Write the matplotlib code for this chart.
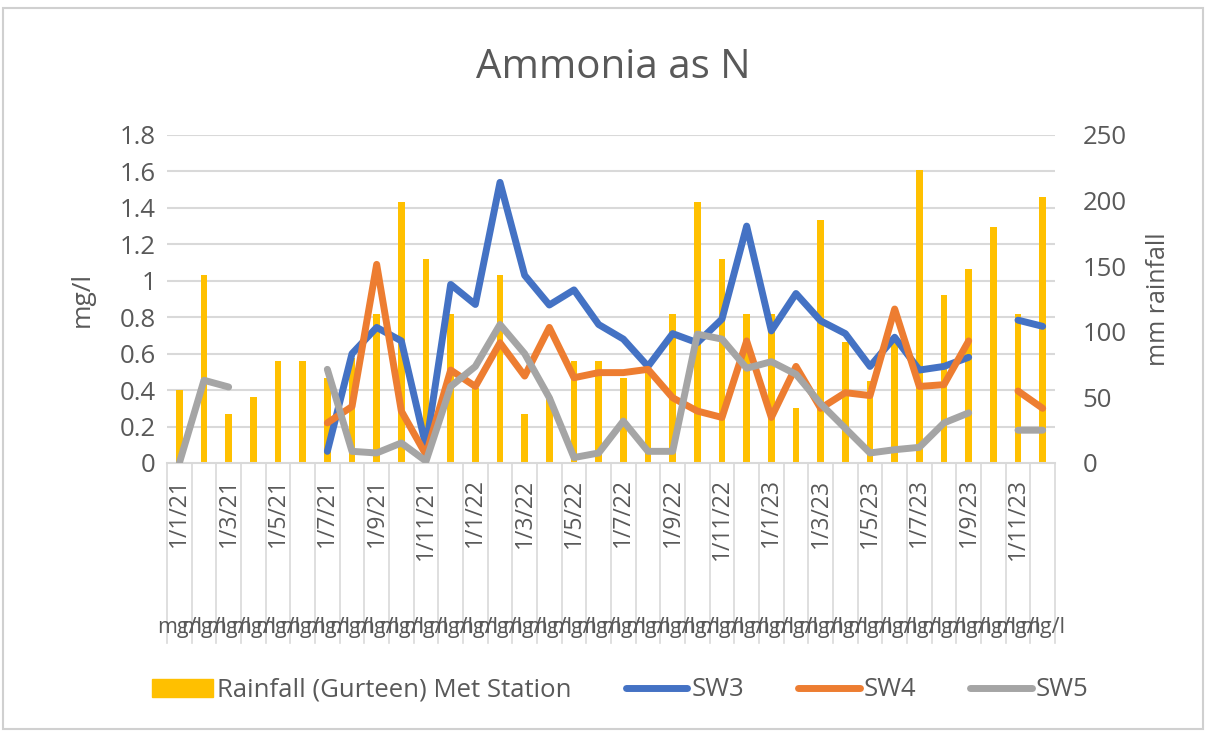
import numpy as np
import matplotlib
matplotlib.use('Agg')
import matplotlib.pyplot as plt
from matplotlib.patches import Rectangle
from matplotlib.lines import Line2D

plt.rcParams['font.family'] = ['Open Sans', 'DejaVu Sans']

# monthly categories Jan 2021 .. Dec 2023
months = ['1/%d/%d' % (m, y) for y in (21, 22, 23) for m in range(1, 13)]

rain = [56, 143, 37.5, 50, 78, 78, 65, 80, 113.5, 199, 155.6, 113.5,
        57, 143, 37.5, 50, 78, 78, 65, 78, 113.5, 199, 155.6, 113.5,
        113.5, 41.6, 185.5, 92, 62.5, 95, 223.7, 128, 148, 180, 113.5, 203]

sw3 = [None, None, None, None, None, None, 0.064, 0.60, 0.744, 0.67, 0.09, 0.98,
       0.87, 1.54, 1.03, 0.867, 0.95, 0.76, 0.68, 0.53, 0.71, 0.66, 0.79, 1.30,
       0.725, 0.93, 0.78, 0.71, 0.53, 0.69, 0.51, 0.53, 0.58, None, 0.784, 0.75]

sw4 = [None, None, None, None, None, None, 0.22, 0.31, 1.09, 0.285, 0.045, 0.51,
       0.42, 0.66, 0.477, 0.744, 0.468, 0.496, 0.496, 0.514, 0.358, 0.285, 0.25, 0.67,
       0.25, 0.53, 0.30, 0.386, 0.37, 0.845, 0.42, 0.43, 0.67, None, 0.395, 0.30]

sw5 = [0.0, 0.454, 0.417, None, None, None, 0.514, 0.064, 0.055, 0.11, 0.01, 0.42,
       0.53, 0.76, 0.60, 0.358, 0.03, 0.055, 0.23, 0.064, 0.064, 0.707, 0.68, 0.52,
       0.556, 0.487, 0.325, 0.19, 0.055, 0.073, 0.086, 0.22, 0.275, None, 0.18, 0.18]

unit = 'mg/l'

def arr(v):
    return np.array([np.nan if a is None else a for a in v], dtype=float)

W, H = 1211, 733
fig = plt.figure(figsize=(W / 100, H / 100), dpi=100)
tc = '#595959'
gc = '#D9D9D9'

# chart frame
fig.patches.append(Rectangle((3 / W, 4 / H), 1200 / W, 721 / H, transform=fig.transFigure,
                             fill=False, edgecolor='#D0D0D0', lw=1.5))

ax = fig.add_axes([167 / W, 1 - 463 / H, (1055 - 167) / W, (463 - 135) / H])
ax2 = ax.twinx()
ax.set_zorder(ax2.get_zorder() + 1)
ax.patch.set_visible(False)

x = np.arange(len(months))
ax2.bar(x, rain, width=0.28, color='#FFC000', zorder=2)
ax2.set_ylim(0, 250)
ax2.set_yticks(range(0, 251, 50))

lw = 5
for s, c in ((sw3, '#4472C4'), (sw4, '#ED7D31'), (sw5, '#A5A5A5')):
    ax.plot(x, arr(s), color=c, lw=lw, solid_capstyle='round', solid_joinstyle='round', zorder=3)

ax.set_xlim(-0.5, len(months) - 0.5)
ax.set_ylim(0, 1.8)
ax.set_yticks(np.arange(0, 1.81, 0.2))
ax.set_yticklabels(['0', '0.2', '0.4', '0.6', '0.8', '1', '1.2', '1.4', '1.6', '1.8'])
for y in np.arange(0.2, 1.81, 0.2):
    ax2.axhline(y / 1.8 * 250, color=gc, lw=1.5, zorder=1)

for a in (ax, ax2):
    for sp in a.spines.values():
        sp.set_visible(False)
    a.tick_params(length=0, labelsize=18.5, labelcolor=tc)
ax.tick_params(pad=8)
ax2.tick_params(pad=20)
ax.spines['bottom'].set_visible(True)
ax.spines['bottom'].set_color(gc)
ax.spines['bottom'].set_linewidth(1.5)
ax.set_xticks([])

# category axis: boundaries, dates every two months, unit row
for i in range(len(months) + 1):
    ax.plot([i - 0.5, i - 0.5], [0, -0.99], color=gc, lw=1.2, clip_on=False, zorder=1)
for i in range(0, len(months), 2):
    ax.text(i, -0.085, months[i], rotation=90, ha='center', va='top', fontsize=16.5,
            color=tc, clip_on=False)
for i in range(len(months)):
    ax.text(i, -0.9, unit, ha='center', va='center', fontsize=15.5, color=tc, clip_on=False)

ax.set_ylabel('mg/l', fontsize=19, color=tc, labelpad=18)
ax2.set_ylabel('mm rainfall', fontsize=18, color=tc, labelpad=14)

fig.text(613 / W, 1 - 68 / H, 'Ammonia as N', ha='center', va='center', fontsize=29, color=tc)

handles = [Rectangle((0, 0), 1, 1, color='#FFC000'),
           Line2D([], [], color='#4472C4', lw=lw, solid_capstyle='round'),
           Line2D([], [], color='#ED7D31', lw=lw, solid_capstyle='round'),
           Line2D([], [], color='#A5A5A5', lw=lw, solid_capstyle='round')]
leg = fig.legend(handles, ['Rainfall (Gurteen) Met Station', 'SW3', 'SW4', 'SW5'],
                 loc='center', bbox_to_anchor=(620 / W, 1 - 690 / H), ncol=4, frameon=False,
                 fontsize=18.5, handlelength=2.4, handletextpad=0.15, columnspacing=2.1)
for t in leg.get_texts():
    t.set_color(tc)

fig.savefig('out.png', dpi=100)
